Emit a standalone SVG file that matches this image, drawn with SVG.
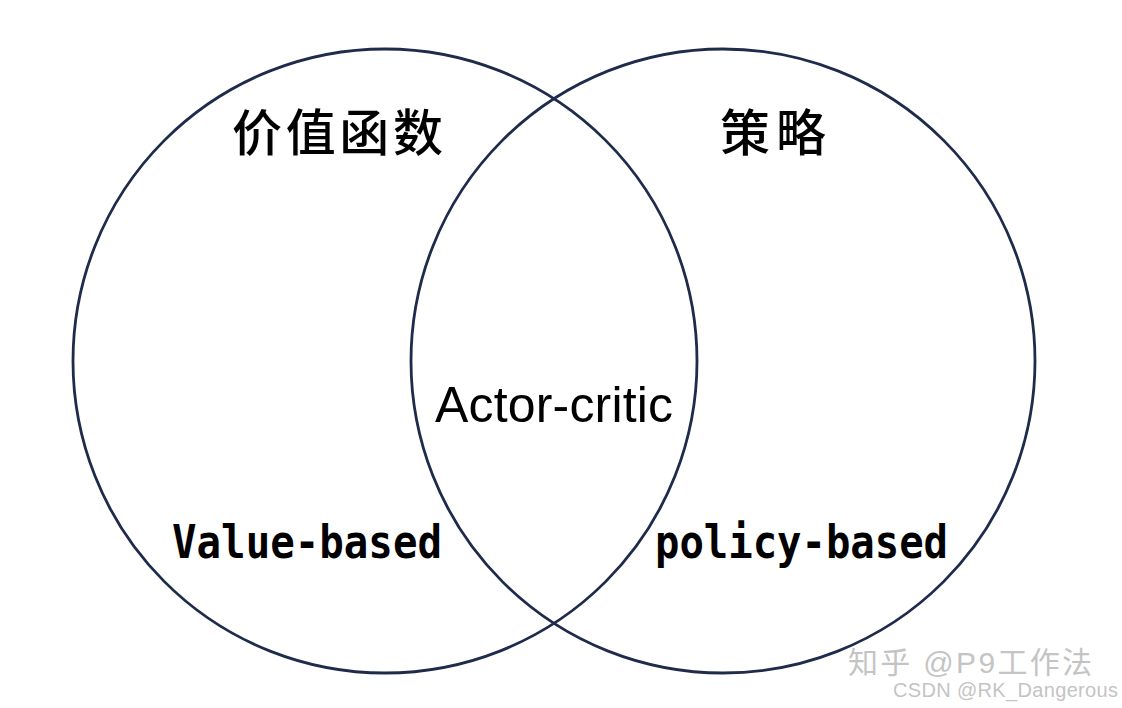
<svg xmlns="http://www.w3.org/2000/svg" width="1122" height="708" viewBox="0 0 1122 708">
<style>
.c{fill:none;stroke:#1e2b4a;stroke-width:2.8}
.cjk{font-family:"Noto Sans CJK SC",sans-serif;font-size:50px;font-weight:500;fill:#000}
.mono{font-family:"DejaVu Sans Mono","Liberation Mono",monospace;font-weight:bold;font-size:47px;fill:#000}
.sans{font-family:"Liberation Sans",Arial,sans-serif;font-size:50px;fill:#000}
.wm{font-family:"Liberation Sans","Noto Sans CJK SC",sans-serif;fill:#c4c4c4}
</style>
<rect width="1122" height="708" fill="#fff"/>
<g id="connectors"></g>
<g id="value-circle">
<circle class="c" cx="385" cy="361" r="312"/>
<text class="cjk" x="232" y="151" textLength="211">价值函数</text>
<text class="mono" x="172" y="558" textLength="270" lengthAdjust="spacingAndGlyphs">Value-based</text>
</g>
<g id="policy-circle">
<circle class="c" cx="723" cy="361" r="312"/>
<text class="cjk" x="720" y="151" textLength="106">策略</text>
<text class="mono" x="655" y="558" textLength="293" lengthAdjust="spacingAndGlyphs">policy-based</text>
</g>
<g id="actor-critic">
<text class="sans" x="435" y="422" textLength="238">Actor-critic</text>
</g>
<g id="watermark">
<text class="wm" x="848" y="673" font-size="30" textLength="244">知乎 @P9工作法</text>
<text class="wm" x="893" y="697" font-size="20" textLength="225">CSDN @RK_Dangerous</text>
</g>
</svg>
